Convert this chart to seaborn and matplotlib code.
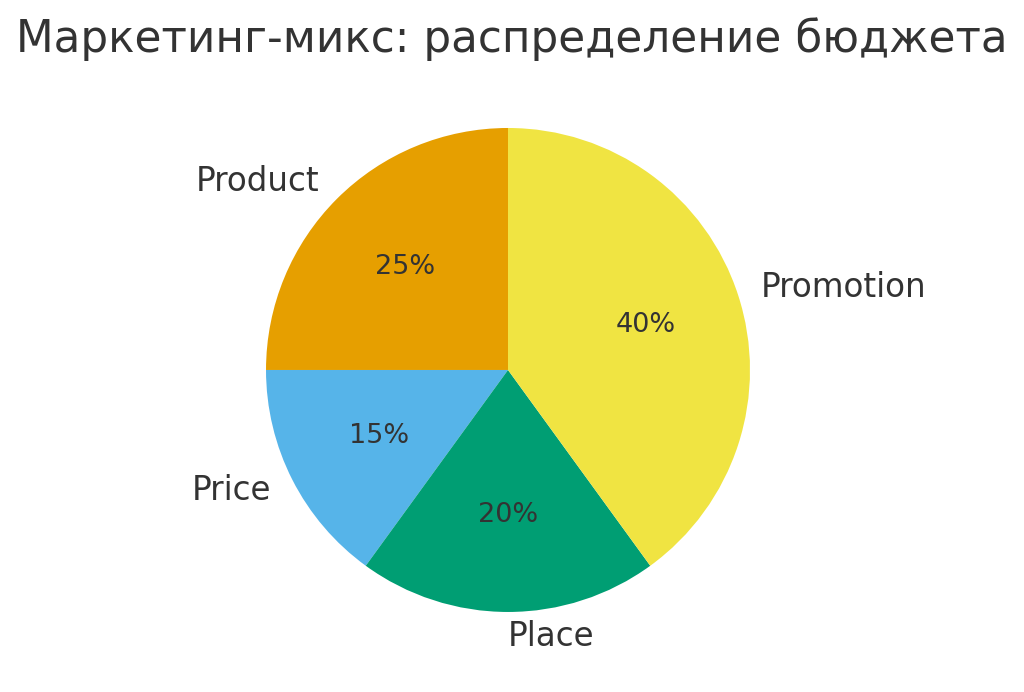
import matplotlib
matplotlib.use("Agg")
import matplotlib.pyplot as plt
import seaborn as sns

# Data
labels = ["Product", "Price", "Place", "Promotion"]
shares = [25, 15, 20, 40]
colors = ["#E69F00", "#56B4E9", "#009E73", "#F0E442"]

sns.set_theme(style="white")
plt.rcParams["font.family"] = ["DejaVu Sans"]
plt.rcParams["text.color"] = "#333333"

fig = plt.figure(figsize=(10.24, 6.92), dpi=100)
ax = fig.add_axes([0.2007, 0.0282, 0.5908, 0.8743])
wedges, texts, autotexts = ax.pie(
    shares,
    labels=labels,
    colors=colors,
    startangle=90,
    autopct="%1.0f%%",
    pctdistance=0.6,
    labeldistance=1.1,
    wedgeprops={"linewidth": 0},
    textprops={"fontsize": 23.5, "color": "#333333"},
)
for t in autotexts:
    t.set_fontsize(19.5)
ax.set_aspect("equal")
fig.suptitle("Маркетинг-микс: распределение бюджета", fontsize=31.5,
             color="#333333", x=0.5, y=0.944, va="center")

plt.savefig("out.png", dpi=100)
plt.close()
